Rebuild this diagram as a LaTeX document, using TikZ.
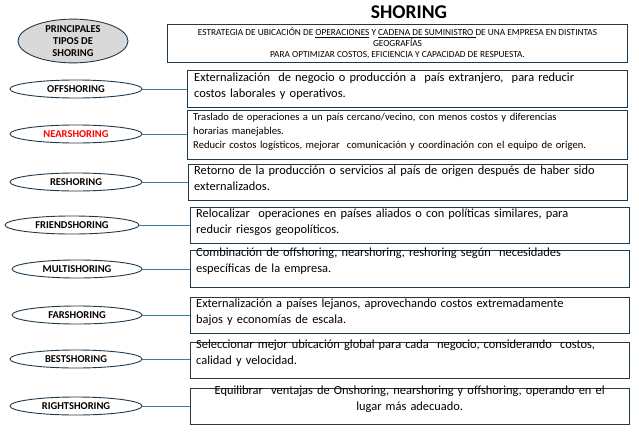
\documentclass[tikz,border=0pt]{standalone}
\usepackage{fontspec}
\setmainfont{Carlito}
\usetikzlibrary{shapes.geometric}
\definecolor{bx}{HTML}{1F3A4D}
\definecolor{ln}{HTML}{3A7F9A}
\begin{document}
\begin{tikzpicture}[x=1pt,y=-1pt,
 lab/.style={ellipse,draw=bx,line width=0.9pt,minimum width=132pt,minimum height=18pt,inner sep=0pt,font=\fontsize{10.5}{11}\selectfont\bfseries},
 desc/.style={draw=bx,line width=1pt,anchor=north west,inner sep=0pt},
 con/.style={draw=ln,line width=0.8pt}]
\useasboundingbox (0,0) rectangle (639,431);
\node[font=\fontsize{19.5}{20}\selectfont\bfseries] (t) at (409,12) {SHORING};
\node[ellipse,draw=bx,fill=gray!30,line width=0.9pt,minimum width=110pt,minimum height=42pt,inner sep=0pt,align=center,font=\fontsize{10.5}{12}\selectfont\bfseries] (h) at (73,41) {PRINCIPALES\\TIPOS DE\\SHORING};
\node[desc,minimum width=460pt,minimum height=38pt] (hb) at (167,24) {};
\node[align=center,inner sep=0pt,font=\fontsize{9.3}{11}\selectfont] at (hb.center) {ESTRATEGIA DE UBICACIÓN DE \underline{OPERACIONES} Y \underline{CADENA DE SUMINISTRO }DE UNA EMPRESA EN DISTINTAS\\GEOGRAFÍAS\\PARA OPTIMIZAR COSTOS, EFICIENCIA Y CAPACIDAD DE RESPUESTA.};
\newcommand\row[9]{%
 \node[lab,minimum width=#3pt,text=#9] (e#1) at (#2,#4) {#5};
 \node[desc,minimum width=#7pt,minimum height=#8pt] (b#1) at (#6) {};
 \draw[con] (e#1.east) -- (e#1.east -| b#1.west);}
\row{1}{76}{132}{89}{OFFSHORING}{187,70}{440}{37}{black}
\row{2}{76}{132}{134}{NEARSHORING}{187,110}{440}{49}{red}
\row{3}{76}{132}{182}{RESHORING}{188,164}{439}{36}{black}
\row{4}{72}{134}{225}{FRIENDSHORING}{190,207}{439}{36}{black}
\row{5}{77}{130}{269}{MULTISHORING}{190,250}{439}{37}{black}
\row{6}{77}{130}{315}{FARSHORING}{190,297}{439}{36}{black}
\row{7}{76}{132}{359}{BESTSHORING}{190,342}{439}{36}{black}
\row{8}{76}{132}{406}{RIGHTSHORING}{190,388}{439}{36}{black}
\tikzset{tx/.style={anchor=north west,align=left,text width=432pt,inner sep=0pt,font=\fontsize{12.4}{16}\selectfont}}
\node[tx] at ([shift={(7,3)}]b1.north west) {Externalización \ de negocio o producción a \ país extranjero, \ para reducir\\costos laborales y operativos.};
\node[tx,font=\fontsize{10.6}{14}\selectfont] at ([shift={(6,3)}]b2.north west) {Traslado de operaciones a un país cercano/vecino, con menos costos y diferencias\\horarias manejables.\\Reducir costos logísticos, mejorar \ comunicación y coordinación con el equipo de origen.};
\node[tx] at ([shift={(6,2)}]b3.north west) {Retorno de la producción o servicios al país de origen después de haber sido\\externalizados.};
\node[tx] at ([shift={(6,2)}]b4.north west) {Relocalizar \ operaciones en países aliados o con políticas similares, para\\reducir riesgos geopolíticos.};
\node[tx] at ([shift={(6,-2)}]b5.north west) {Combinación de offshoring, nearshoring, reshoring según \ necesidades\\específicas de la empresa.};
\node[tx] at ([shift={(6,2)}]b6.north west) {Externalización a países lejanos, aprovechando costos extremadamente\\bajos y economías de escala.};
\node[tx] at ([shift={(6,-2)}]b7.north west) {Seleccionar mejor ubicación global para cada \ negocio, considerando \ costos,\\calidad y velocidad.};
\node[tx,align=center,text width=427pt] at ([shift={(6,-2)}]b8.north west) {Equilibrar \ ventajas de Onshoring, nearshoring y offshoring, operando en el\\lugar más adecuado.};
\end{tikzpicture}
\end{document}
